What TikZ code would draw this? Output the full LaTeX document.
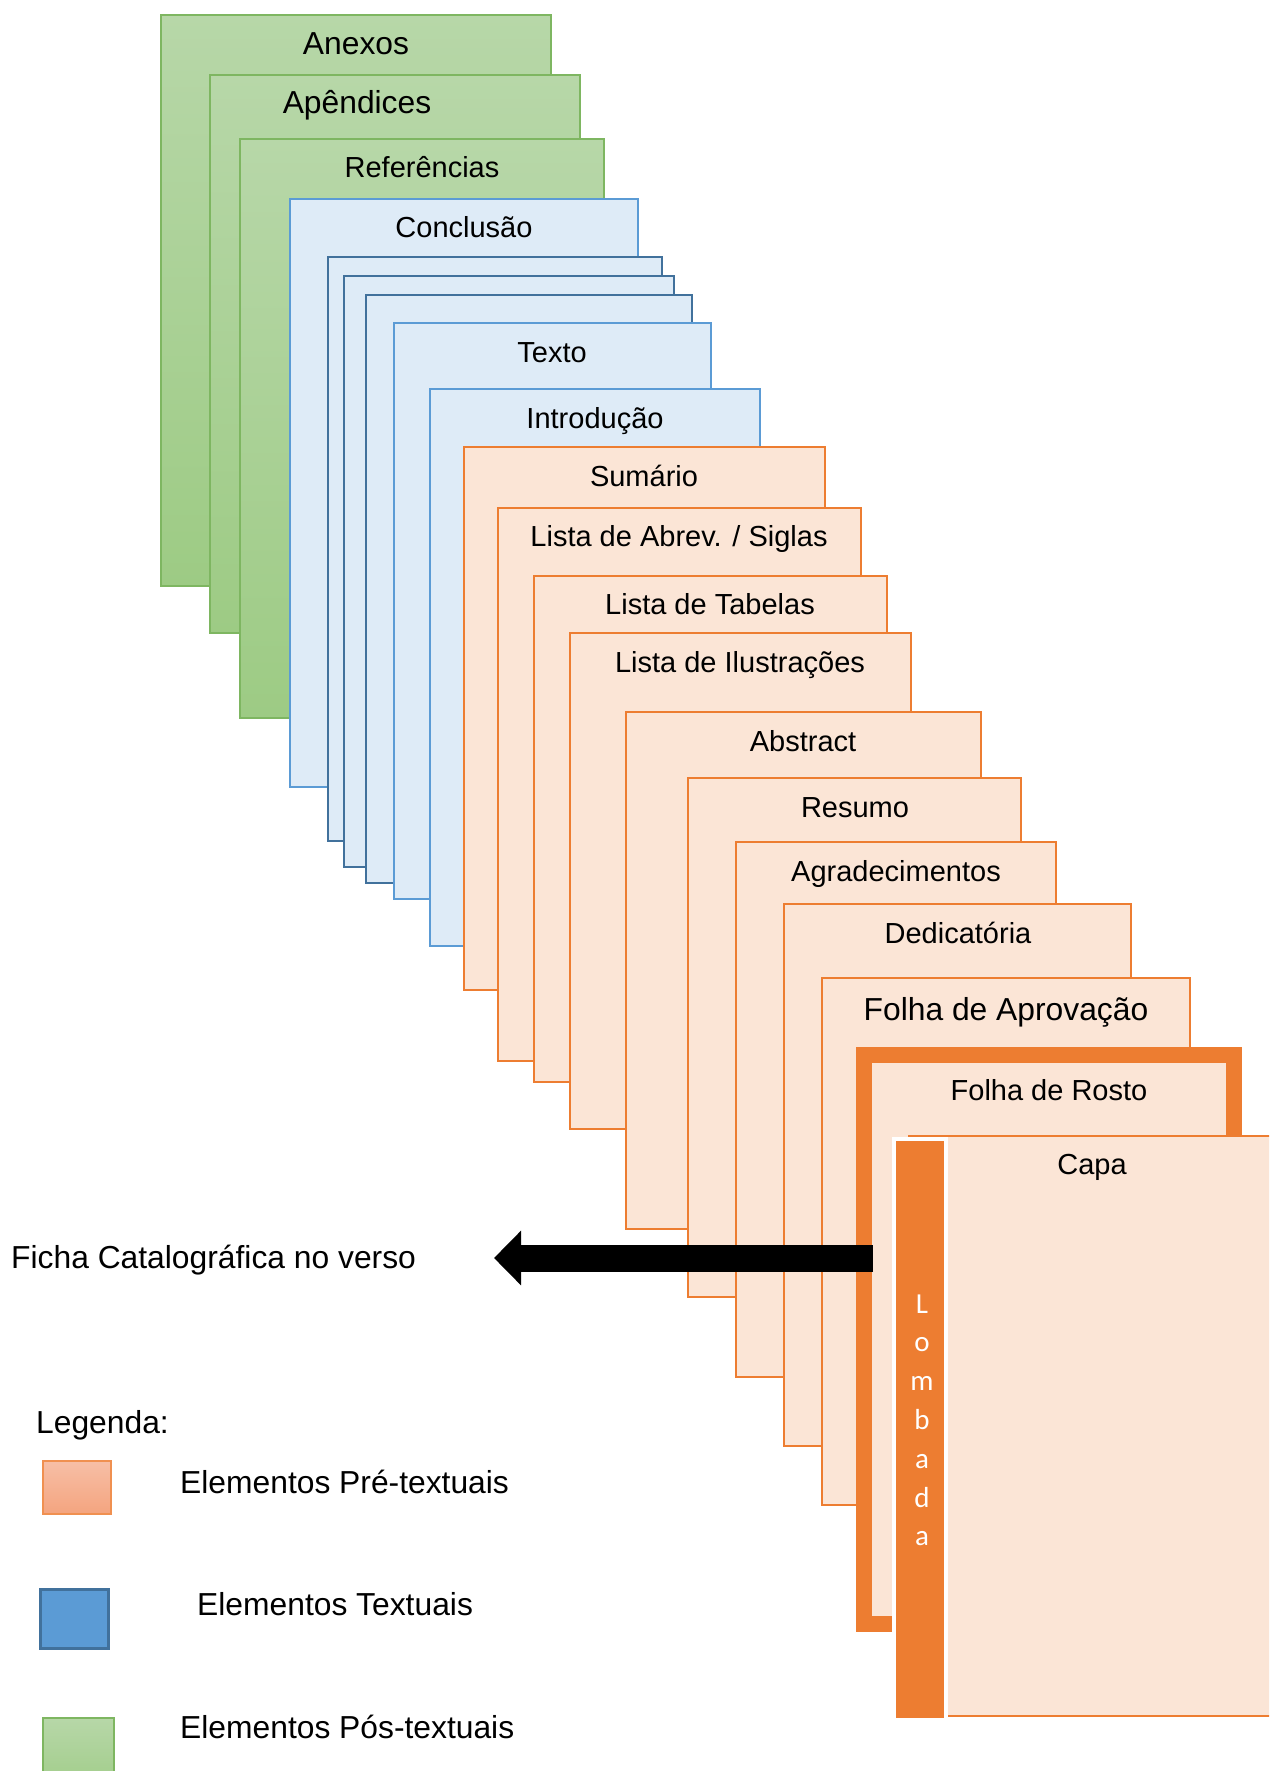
\documentclass[tikz,border=0pt]{standalone}
\usepackage{fontspec}
\setmainfont{Liberation Sans}
\newfontfamily\spinefont{Carlito}
\usetikzlibrary{arrows.meta}
\definecolor{postA}{HTML}{B7D7A8}
\definecolor{postB}{HTML}{9DCB84}
\definecolor{postline}{HTML}{7EB661}
\definecolor{txtfill}{HTML}{DEEBF7}
\definecolor{txtline}{HTML}{5B9BD5}
\definecolor{txtdark}{HTML}{41719C}
\definecolor{prefill}{HTML}{FBE5D6}
\definecolor{preline}{HTML}{ED7D31}
\definecolor{legA}{HTML}{F7BFA6}
\definecolor{legB}{HTML}{F4A47F}
\newcommand{\lblsize}{\fontsize{29}{34}\selectfont}
\newcommand{\bigsize}{\fontsize{31.8}{38}\selectfont}

\begin{document}
\begin{tikzpicture}[x=1pt,y=-1pt,
  post/.style={draw=postline,line width=2pt,top color=postA,bottom color=postB},
  txt/.style={draw=txtline,line width=2.2pt,fill=txtfill},
  txtd/.style={draw=txtdark,line width=2.6pt,fill=txtfill},
  pre/.style={draw=preline,line width=2.4pt,fill=prefill},
  lbl/.style={font=\lblsize,anchor=base,inner sep=0pt},
  leg/.style={font=\bigsize,anchor=base west,inner sep=0pt}]
  \useasboundingbox (0,0) rectangle (1269,1771);
  \clip (0,0) rectangle (1269,1771);
  \path[post] (161,15) rectangle (551,586);
  \node[lbl,font=\bigsize] (anexos) at (356,55) {Anexos};
  \path[post] (210,75) rectangle (580,633);
  \node[lbl,font=\bigsize] (apendices) at (357,114) {Apêndices};
  \path[post] (240,139) rectangle (604,718);
  \node[lbl] (refs) at (422,178) {Referências};
  \draw[txt] (290,199) rectangle (638,787);
  \node[lbl] (conclusao) at (464,238) {Conclusão};
  \draw[txtd] (328,257) rectangle (662,841);
  \draw[txtd] (344,276) rectangle (674,867);
  \draw[txtd] (366,295) rectangle (692,883);
  \draw[txt] (394,323) rectangle (711,899);
  \node[lbl] (texto) at (552,362) {Texto};
  \draw[txt] (430,389) rectangle (760,946);
  \node[lbl] (intro) at (595,428) {Introdução};
  \draw[pre] (464,447) rectangle (825,990);
  \node[lbl] (sumario) at (644,486) {Sumário};
  \draw[pre] (498,508) rectangle (861,1061);
  \node[lbl] (abrev) at (679,546) {Lista de Abrev. / Siglas};
  \draw[pre] (534,576) rectangle (887,1082);
  \node[lbl] (tabelas) at (710,614) {Lista de Tabelas};
  \draw[pre] (570,633) rectangle (911,1129);
  \node[lbl] (ilustr) at (740,672) {Lista de Ilustrações};
  \draw[pre] (626,712) rectangle (981,1229);
  \node[lbl] (abstract) at (803,751) {Abstract};
  \draw[pre] (688,778) rectangle (1021,1297);
  \node[lbl] (resumo) at (855,817) {Resumo};
  \draw[pre] (736,842) rectangle (1056,1377);
  \node[lbl] (agrad) at (896,881) {Agradecimentos};
  \draw[pre] (784,904) rectangle (1131,1446);
  \node[lbl] (dedic) at (958,943) {Dedicatória};
  \draw[pre] (822,978) rectangle (1190,1505);
  \node[lbl,font=\bigsize] (aprov) at (1006,1020) {Folha de Aprovação};
  \draw[pre,line width=16pt] (864,1055) rectangle (1234,1624);
  \node[lbl] (rosto) at (1049,1100) {Folha de Rosto};
  \draw[pre] (909,1136) rectangle (1300,1716);
  \node[lbl] (capa) at (1092,1174) {Capa};
  \draw[fill=preline,draw=white,line width=4pt] (894,1139) rectangle (946,1720);
  \foreach \ch [count=\i from 0] in {L,o,m,b,a,d,a}
    \node[anchor=base,inner sep=0pt,white,font=\spinefont\fontsize{29}{34}\selectfont] (lomb\i) at (922,1313+38.8*\i) {\ch};
  \node[leg] (ficha) at (11,1268) {Ficha Catalográfica no verso};
  \coordinate (ftail) at (873,1258);
  \coordinate (ftip) at (494,1258);
  \draw[line width=27pt,-{Triangle[length=27pt,width=53pt]}] (ftail) -- (ftip);
  \node[leg] (legenda) at (36,1433) {Legenda:};
  \path[draw=preline!85!white,line width=2pt,top color=legA,bottom color=legB] (43,1461) rectangle (111,1514);
  \node[leg] (lpre) at (180,1493) {Elementos Pré-textuais};
  \draw[fill=txtline,draw=txtdark,line width=3pt] (40,1589) rectangle (108,1648);
  \node[leg] (ltxt) at (197,1615) {Elementos Textuais};
  \path[post] (43,1718) rectangle (114,1800);
  \node[leg] (lpos) at (180,1738) {Elementos Pós-textuais};
\end{tikzpicture}
\end{document}
